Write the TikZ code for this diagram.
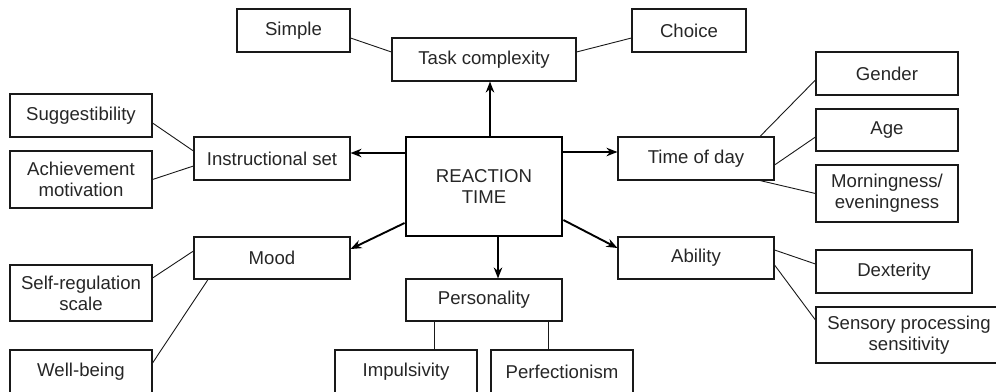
\documentclass[tikz,border=0pt]{standalone}
\usepackage{fontspec}
\setmainfont{Liberation Sans}
\usetikzlibrary{arrows.meta}
\begin{document}
\begin{tikzpicture}[x=1pt,y=-1pt,
  box/.style={draw=black!90, line width=1.1pt, inner sep=0pt, align=center, text=black!85,
    font=\fontsize{18.6}{21}\selectfont},
  sz/.style 2 args={minimum width=#1pt, minimum height=#2pt},
  link/.style={draw=black!90, line width=0.9pt},
  arr/.style={draw=black, line width=1.9pt, -{Stealth[length=11pt,width=8.5pt]}}]
\useasboundingbox (0,0) rectangle (996,391);
\clip (0,0) rectangle (996,391);
% nodes
\node[box, sz={113}{43}] (simple) at (293.5,30.5) {Simple};
\node[box, sz={184}{43}] (task) at (484,59.5) {Task complexity};
\node[box, sz={114}{43}] (choice) at (689,30.5) {Choice};
\node[box, sz={142}{43}] (sugg) at (81,115.5) {Suggestibility};
\node[box, sz={142}{57}] (ach) at (81,179.5) {Achievement\\motivation};
\node[box, sz={156}{43}] (instr) at (272,158.5) {Instructional set};
\node[box, sz={156}{99}, line width=2.8pt, draw=black] (rt) at (484,186.5) {REACTION\\TIME};
\node[box, sz={156}{43}] (time) at (696,158.5) {Time of day};
\node[box, sz={142}{43}] (gender) at (887,73.5) {Gender};
\node[box, sz={142}{42}] (age) at (887,130) {Age};
\node[box, sz={142}{57}] (morn) at (887,193.5) {Morningness/\\eveningness};
\node[box, sz={156}{42}] (mood) at (272,258) {Mood};
\node[box, sz={142}{56}] (selfreg) at (81,293) {Self-regulation\\scale};
\node[box, sz={142}{43}] (well) at (81,371.5) {Well-being};
\node[box, sz={156}{42}] (pers) at (484,300) {Personality};
\node[box, sz={142}{43}] (imp) at (406,371.5) {Impulsivity};
\node[box, sz={142}{43}] (perf) at (562,371.5) {Perfectionism};
\node[box, sz={156}{42}] (ability) at (696,258) {Ability};
\node[box, sz={156}{43}] (dext) at (894,271.5) {Dexterity};
\node[box, sz={186}{56}] (sens) at (909,335) {Sensory processing\\sensitivity};
% thin links
\draw[link] ([yshift=-7.5pt]simple.east) -- ([yshift=7.5pt]task.west);
\draw[link] ([yshift=7.5pt]task.east) -- ([yshift=-7.5pt]choice.west);
\draw[link] ([yshift=-7.5pt]sugg.east) -- ([yshift=7.5pt]instr.west);
\draw[link] (ach.east) -- ([yshift=-7.5pt]instr.west);
\draw[link] ([xshift=64pt]time.north) -- ([yshift=-6.5pt]gender.west);
\draw[link] ([yshift=-6.5pt]time.east) -- ([yshift=-7pt]age.west);
\draw[link] ([xshift=64pt]time.south) -- (morn.west);
\draw[link] ([yshift=7pt]mood.west) -- ([yshift=15pt]selfreg.east);
\draw[link] ([xshift=-64pt]mood.south) -- ([yshift=8.5pt]well.east);
\draw[link] ([xshift=-50pt]pers.south) -- ([xshift=28pt]imp.north);
\draw[link] ([xshift=64pt]pers.south) -- ([xshift=-14pt]perf.north);
\draw[link] ([yshift=8pt]ability.east) -- ([yshift=7.5pt]dext.west);
\draw[link] ([yshift=-7pt]ability.east) -- ([yshift=15pt]sens.west);
% arrows
\draw[arr] ([xshift=6pt]rt.north) -- ([xshift=6pt]task.south);
\draw[arr] ([yshift=33.5pt]rt.west) -- ([yshift=5.5pt]instr.east);
\draw[arr] ([yshift=34.5pt]rt.east) -- ([yshift=6.5pt]time.west);
\draw[arr] ([yshift=-36.5pt]rt.west) -- ([yshift=9pt]mood.east);
\draw[arr] ([yshift=-33.5pt]rt.east) -- ([yshift=10pt]ability.west);
\draw[arr] ([xshift=14pt]rt.south) -- ([xshift=14pt]pers.north);
\end{tikzpicture}
\end{document}
